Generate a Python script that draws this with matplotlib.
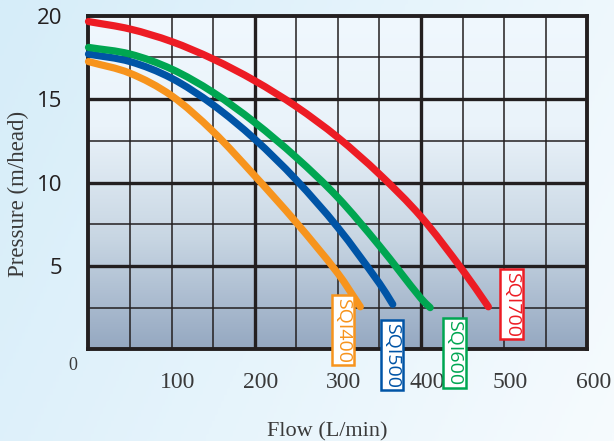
import numpy as np
import matplotlib
matplotlib.use("Agg")
import matplotlib.pyplot as plt
import matplotlib.transforms as mtransforms
from matplotlib.colors import LinearSegmentedColormap
from matplotlib.path import Path
from matplotlib.patches import PathPatch

# pump curves (flow L/min, pressure m/head)
sqi400_x = [0, 50, 100, 150, 200, 250, 300, 327]
sqi400_y = [17.25, 16.55, 15.2, 13.05, 10.4, 7.6, 4.55, 2.55]
sqi500_x = [0, 50, 100, 150, 200, 250, 300, 350, 366]
sqi500_y = [17.7, 17.25, 16.25, 14.65, 12.6, 10.15, 7.3, 3.95, 2.7]
sqi600_x = [0, 50, 100, 150, 200, 250, 300, 350, 400, 411]
sqi600_y = [18.1, 17.7, 16.8, 15.4, 13.6, 11.5, 9.1, 6.2, 3.05, 2.5]
sqi700_x = [0, 50, 100, 150, 200, 250, 300, 350, 400, 450, 481]
sqi700_y = [19.65, 19.2, 18.45, 17.4, 16.1, 14.55, 12.7, 10.5, 7.95, 4.75, 2.55]

names = ["SQI400", "SQI500", "SQI600", "SQI700"]
colors = ["#f7941d", "#0054a6", "#00a651", "#ed1c24"]
# where the name tags sit (data coords)
tag_x = [306, 365, 440, 509]
tag_y = [1.15, -0.35, -0.22, 2.7]

xticks = [100, 200, 300, 400, 500, 600]
yticks = [5, 10, 15, 20]


def smooth_path(xs, ys):
    # cubic hermite through the read points, as bezier segments
    xs = np.asarray(xs, float)
    ys = np.asarray(ys, float)
    n = len(xs)
    m = np.zeros(n)
    m[0] = (ys[1] - ys[0]) / (xs[1] - xs[0])
    m[-1] = (ys[-1] - ys[-2]) / (xs[-1] - xs[-2])
    for i in range(1, n - 1):
        m[i] = (ys[i + 1] - ys[i - 1]) / (xs[i + 1] - xs[i - 1])
    verts = [(xs[0], ys[0])]
    codes = [Path.MOVETO]
    for i in range(n - 1):
        h = xs[i + 1] - xs[i]
        verts += [(xs[i] + h / 3, ys[i] + m[i] * h / 3),
                  (xs[i + 1] - h / 3, ys[i + 1] - m[i + 1] * h / 3),
                  (xs[i + 1], ys[i + 1])]
        codes += [Path.CURVE4] * 3
    return Path(verts, codes)


fig = plt.figure(figsize=(6.14, 4.41), dpi=100)

# figure background gradient
bg = fig.add_axes([0, 0, 1, 1], zorder=-5)
gx, gy = np.meshgrid(np.linspace(0, 1, 200), np.linspace(0, 1, 200))
bg_cmap = LinearSegmentedColormap.from_list("bg", ["#d6edf9", "#f6fbfe"])
bg.imshow(0.75 * gx + 0.25 * (1 - gy), cmap=bg_cmap, aspect="auto", extent=[0, 1, 0, 1], origin="lower")
bg.set_axis_off()

ax = fig.add_axes([0.1441, 0.2079, 0.8124, 0.7565])
ax.set_xlim(0, 600)
ax.set_ylim(0, 20)

pa_cmap = LinearSegmentedColormap.from_list("pa", ["#95a8c1", "#c8d6e3", "#eaf3fa", "#f0f8fe"])
grad = np.linspace(0, 1, 256).reshape(-1, 1)
ax.imshow(grad, cmap=pa_cmap, aspect="auto", extent=[0, 600, 0, 20], origin="lower", zorder=0)

# grid
for gxv in np.arange(50, 600, 50):
    lw = 2.4 if gxv in (200, 400) else 1.1
    ax.axvline(gxv, color="#231f20", lw=lw, zorder=1)
for gyv in np.arange(2.5, 20, 2.5):
    lw = 2.4 if gyv % 5 == 0 else 1.1
    ax.axhline(gyv, color="#231f20", lw=lw, zorder=1)
for s in ax.spines.values():
    s.set_linewidth(2.8)
    s.set_color("#231f20")
    s.set_zorder(3)

series = [(sqi400_x, sqi400_y), (sqi500_x, sqi500_y), (sqi600_x, sqi600_y), (sqi700_x, sqi700_y)]
for (xs, ys), c in zip(series, colors):
    ax.add_patch(PathPatch(smooth_path(xs, ys), fc="none", ec=c, lw=5.2, capstyle="round",
                           joinstyle="round", zorder=4, clip_on=False))

for name, c, tx, ty in zip(names, colors, tag_x, tag_y):
    ax.text(tx, ty, name, rotation=-90, ha="center", va="center", color=c,
            fontsize=14, family="Open Sans", zorder=6, clip_on=False,
            bbox=dict(boxstyle="square,pad=0.12", fc="white", ec=c, lw=1.8))

ax.set_xticks(xticks)
ax.set_yticks(yticks)
ax.tick_params(length=0)
ax.set_xticklabels([str(v) for v in xticks], family="Liberation Serif", fontsize=17, color="#3a3a3a")
ax.set_yticklabels([str(v) for v in yticks], family="Open Sans", fontsize=16, color="#231f20")
ax.tick_params(axis="x", pad=16)
ax.tick_params(axis="y", pad=19)
shift = mtransforms.ScaledTranslation(6 / 100, 0, fig.dpi_scale_trans)
for lab in ax.get_xticklabels():
    lab.set_transform(lab.get_transform() + shift)

fig.text(73 / 614, 1 - 365 / 441, "0", ha="center", va="center", family="Liberation Serif",
         fontsize=13, color="#3a3a3a")
fig.text(18 / 614, 1 - 194 / 441, "Pressure (m/head)", rotation=90, ha="center", va="center",
         family="Liberation Serif", fontsize=16.5, color="#3a3a3a")
fig.text(327 / 614, 1 - 432 / 441, "Flow (L/min)", ha="center", va="center",
         family="Liberation Serif", fontsize=16, color="#3a3a3a")

fig.savefig("out.png", dpi=100)
